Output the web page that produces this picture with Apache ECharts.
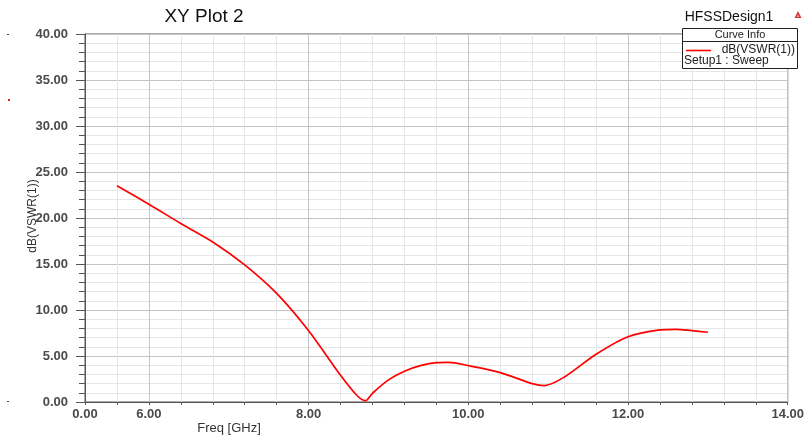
<!DOCTYPE html>
<html>
<head>
<meta charset="utf-8">
<script src="https://cdn.jsdelivr.net/npm/echarts@6/dist/echarts.min.js"></script>
<style>
  html, body { margin: 0; padding: 0; background: #fff; }
  #chart { width: 807px; height: 439px; }
</style>
</head>
<body>
<div id="chart"></div>
<script>
// Return loss sweep of port 1, dB(VSWR(1)) vs frequency
const freqGHz = [5.6, 6.0, 6.4, 6.8, 7.2, 7.6, 8.0, 8.4, 8.6, 8.71, 8.8, 9.0, 9.2, 9.4, 9.6, 9.75, 10.0, 10.4, 10.8, 10.95, 11.2, 11.6, 12.0, 12.4, 12.6, 12.8, 13.0];
const vswrDb  = [23.5, 21.5, 19.4, 17.4, 14.9, 11.8, 7.75, 2.9, 0.76, 0.15, 0.95, 2.4, 3.35, 3.95, 4.27, 4.3, 3.95, 3.2, 2.0, 1.78, 2.7, 5.2, 7.1, 7.83, 7.9, 7.75, 7.58];

const xMin = 5.2, xMax = 14.0, xStep = 0.4;
const xMajorTicks = [6, 8, 10, 12, 14];
const yMin = 0, yMax = 40, yStep = 5;

const seriesName = 'dB(VSWR(1))';
const setupName = 'Setup1 : Sweep';
const plotTitle = 'XY Plot 2';
const designName = 'HFSSDesign1';
const xTitle = 'Freq [GHz]';
const yTitle = 'dB(VSWR(1))';

const FONT = '"Liberation Sans", Arial, sans-serif';
const MAJOR = '#c4c4c4';
const MINOR = '#e6e6e6';
const AXIS = '#555';
const LABEL = '#4a4a4a';

const isMajor = v => xMajorTicks.some(t => Math.abs(t - v) < 1e-6);

const chart = echarts.init(document.getElementById('chart'), null, { renderer: 'canvas' });

const txt = (text, x, y, font, fill, align) => ({
  type: 'text', z: 120,
  style: { text, x, y, font, fill, align: align || 'center', verticalAlign: 'middle' }
});

chart.setOption({
  animation: false,
  backgroundColor: '#fff',
  grid: {
    left: 85, right: 17, top: 34, bottom: 37,
    show: true, borderColor: AXIS, borderWidth: 1, backgroundColor: 'transparent'
  },
  xAxis: {
    type: 'value', min: xMin, max: xMax, interval: xStep,
    axisLine: { show: true, lineStyle: { color: AXIS, width: 1 } },
    axisTick: { show: true, length: 3, lineStyle: { color: AXIS } },
    axisLabel: {
      show: true, margin: 6, fontSize: 13, fontWeight: 'bold', color: LABEL, fontFamily: FONT,
      showMinLabel: true, showMaxLabel: true,
      formatter: v => {
        if (Math.abs(v - xMin) < 1e-6) return '0.00';
        return isMajor(v) ? v.toFixed(2) : '';
      }
    },
    splitLine: {
      show: true,
      lineStyle: { color: [MINOR, MINOR, MAJOR, MINOR, MINOR], width: 1 }
    }
  },
  yAxis: {
    type: 'value', min: yMin, max: yMax, interval: yStep,
    axisLine: { show: true, lineStyle: { color: AXIS, width: 1 } },
    axisTick: { show: true, length: 9, lineStyle: { color: AXIS } },
    minorTick: { show: true, splitNumber: 5, length: 6, lineStyle: { color: AXIS } },
    axisLabel: {
      margin: 17, fontSize: 13, fontWeight: 'bold', color: LABEL, fontFamily: FONT,
      formatter: v => v.toFixed(2)
    },
    splitLine: { show: true, lineStyle: { color: MAJOR, width: 1 } },
    minorSplitLine: { show: true, lineStyle: { color: MINOR, width: 1 } }
  },
  series: [{
    name: seriesName,
    type: 'line',
    data: freqGHz.map((f, i) => [f, vswrDb[i]]),
    showSymbol: false,
    smooth: 0.3,
    lineStyle: { color: '#ff0000', width: 1.7 },
    z: 5
  }],
  graphic: [
    txt(plotTitle, 204, 17, '19px ' + FONT, '#111'),
    txt(designName, 729, 17, '14px ' + FONT, '#111'),
    // design icon
    { type: 'polygon', z: 120,
      shape: { points: [[798, 11], [794.5, 18], [801.5, 18]] },
      style: { fill: '#d23a3a' } },
    { type: 'polygon', z: 121,
      shape: { points: [[798, 14.5], [796.8, 17], [799.2, 17]] },
      style: { fill: '#f0b0b0' } },
    { type: 'text', z: 120, rotation: Math.PI / 2, x: 33, y: 216,
      style: { text: yTitle, x: 0, y: 0, font: '12px ' + FONT, fill: '#333', align: 'center', verticalAlign: 'middle' } },
    txt(xTitle, 229, 428, '13px ' + FONT, '#333'),
    // Curve info box
    { type: 'rect', z: 110, shape: { x: 682.5, y: 28.5, width: 115, height: 40 },
      style: { fill: '#fff', stroke: '#222', lineWidth: 1 } },
    { type: 'line', z: 111, shape: { x1: 682.5, y1: 41.5, x2: 797.5, y2: 41.5 },
      style: { stroke: '#222', lineWidth: 1 } },
    txt('Curve Info', 740, 35, '11px ' + FONT, '#222'),
    { type: 'line', z: 111, shape: { x1: 686, y1: 50.5, x2: 711, y2: 50.5 },
      style: { stroke: '#ff0000', lineWidth: 1.6 } },
    txt(seriesName, 795, 50, '12px ' + FONT, '#222', 'right'),
    txt(setupName, 684, 61, '12px ' + FONT, '#222', 'left'),
    // small marks along the left margin
    { type: 'rect', z: 120, shape: { x: 7, y: 34, width: 2, height: 1 }, style: { fill: '#444' } },
    { type: 'rect', z: 120, shape: { x: 7, y: 401, width: 2, height: 1 }, style: { fill: '#444' } },
    { type: 'rect', z: 120, shape: { x: 8, y: 99, width: 2, height: 2 }, style: { fill: '#e02020' } }
  ]
});
</script>
</body>
</html>
